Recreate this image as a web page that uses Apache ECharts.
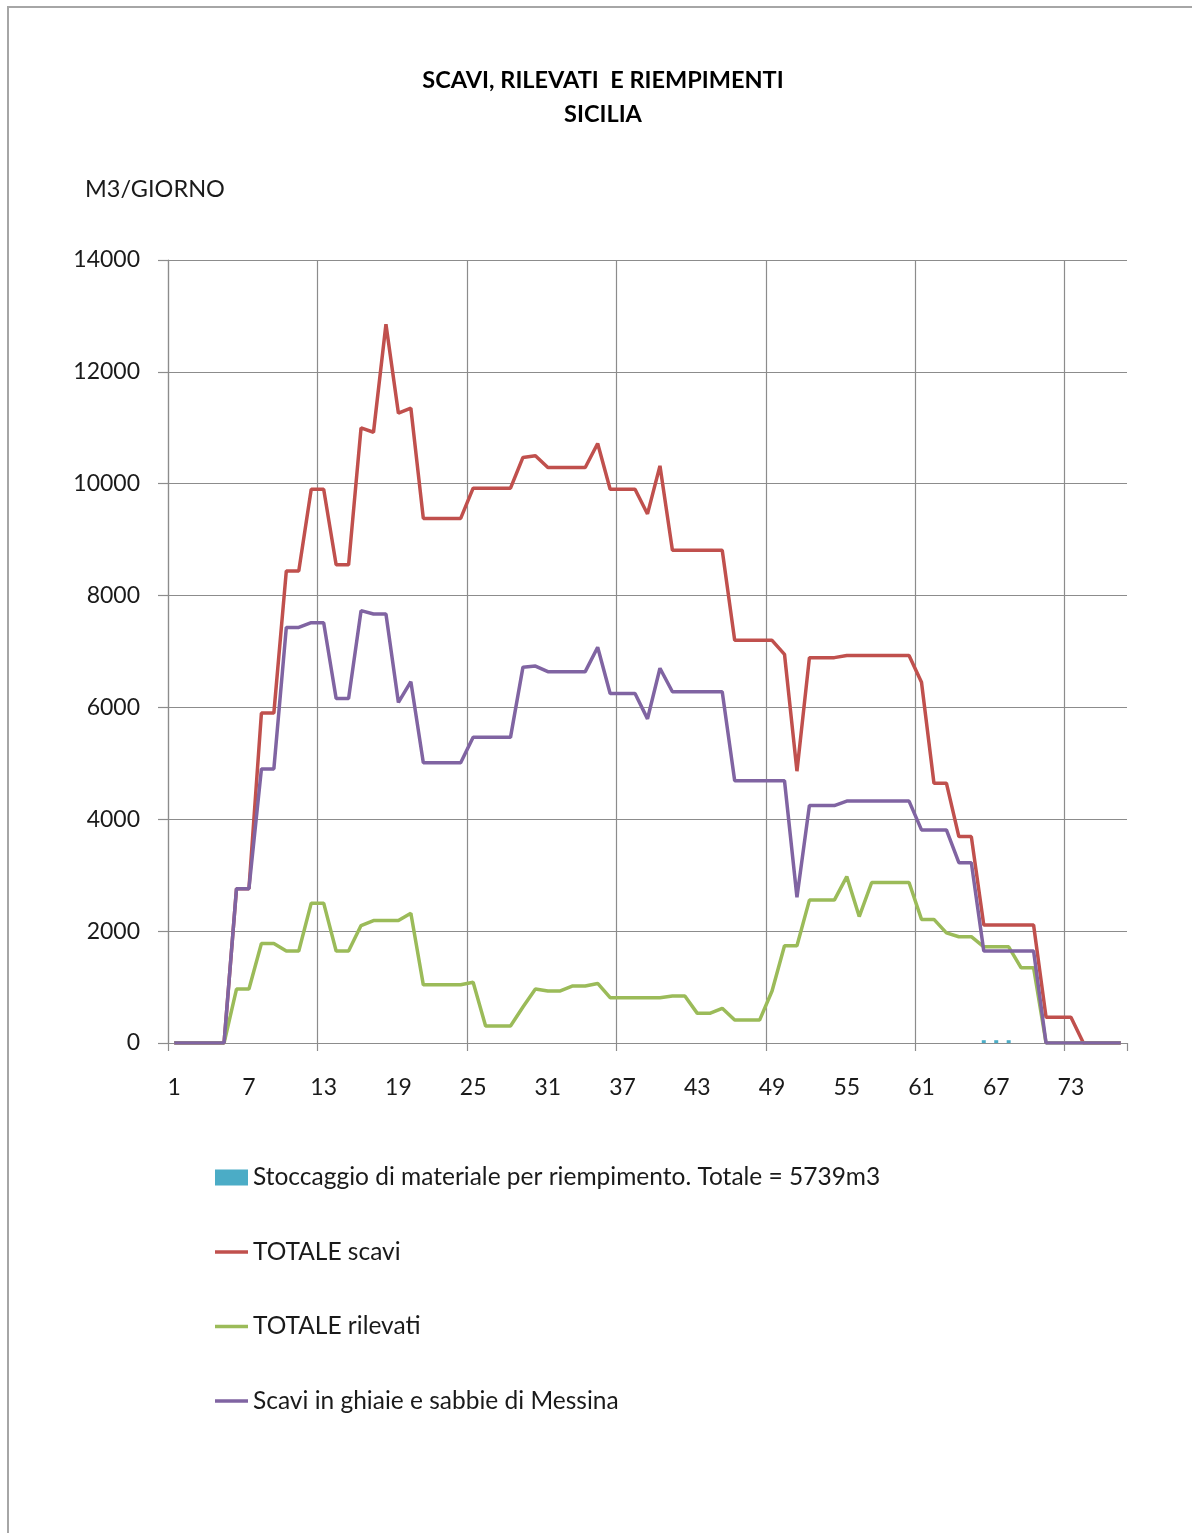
<!DOCTYPE html>
<html>
<head>
<meta charset="utf-8">
<title>Scavi, rilevati e riempimenti - Sicilia</title>
<script src="https://cdn.jsdelivr.net/npm/echarts@6/dist/echarts.min.js"></script>
<style>
  html, body { margin: 0; padding: 0; background: #ffffff; }
  #chart { width: 1192px; height: 1533px; }
</style>
</head>
<body>
<div id="chart"></div>
<script>
// Giorni di lavoro (1..77)
const days = Array.from({ length: 77 }, (_, i) => String(i + 1));

// Valori in m3/giorno
const totaleScavi = [
  0, 0, 0, 0, 0, 2760, 2760, 5900, 5900, 8440,
  8440, 9900, 9900, 8550, 8550, 11000, 10920, 12850, 11260, 11350,
  9380, 9380, 9380, 9380, 9920, 9920, 9920, 9920, 10470, 10500,
  10290, 10290, 10290, 10290, 10720, 9900, 9900, 9900, 9460, 10320,
  8810, 8810, 8810, 8810, 8810, 7200, 7200, 7200, 7200, 6950,
  4860, 6890, 6890, 6890, 6930, 6930, 6930, 6930, 6930, 6930,
  6450, 4645, 4645, 3690, 3690, 2110, 2110, 2110, 2110, 2110,
  460, 460, 460, 0, 0, 0, 0
];

const totaleRilevati = [
  0, 0, 0, 0, 0, 965, 965, 1780, 1780, 1645,
  1645, 2500, 2500, 1645, 1645, 2100, 2190, 2190, 2190, 2320,
  1040, 1040, 1040, 1040, 1085, 305, 305, 305, 645, 965,
  930, 930, 1020, 1020, 1065, 810, 810, 810, 810, 810,
  840, 840, 530, 530, 620, 410, 410, 410, 930, 1740,
  1740, 2555, 2555, 2555, 2975, 2260, 2870, 2870, 2870, 2870,
  2210, 2210, 1970, 1900, 1900, 1720, 1720, 1720, 1345, 1345,
  0, 0, 0, 0, 0, 0, 0
];

const scaviMessina = [
  0, 0, 0, 0, 0, 2760, 2760, 4900, 4900, 7430,
  7430, 7515, 7515, 6160, 6160, 7730, 7670, 7670, 6090, 6460,
  5010, 5010, 5010, 5010, 5465, 5465, 5465, 5465, 6720, 6740,
  6640, 6640, 6640, 6640, 7075, 6250, 6250, 6250, 5795, 6700,
  6280, 6280, 6280, 6280, 6280, 4690, 4690, 4690, 4690, 4690,
  2605, 4245, 4245, 4245, 4325, 4325, 4325, 4325, 4325, 4325,
  3810, 3810, 3810, 3225, 3225, 1645, 1645, 1645, 1645, 1645,
  0, 0, 0, 0, 0, 0, 0
];

// Stoccaggio (solo giorni 66-68)
const stoccaggio = [
  null, null, null, null, null, null, null, null, null, null,
  null, null, null, null, null, null, null, null, null, null,
  null, null, null, null, null, null, null, null, null, null,
  null, null, null, null, null, null, null, null, null, null,
  null, null, null, null, null, null, null, null, null, null,
  null, null, null, null, null, null, null, null, null, null,
  null, null, null, null, null, 50, 50, 50, null, null,
  null, null, null, null, null, null, null
];

const seriesNames = [
  'Stoccaggio di materiale per riempimento. Totale = 5739m3',
  'TOTALE scavi',
  'TOTALE rilevati',
  'Scavi in ghiaie e sabbie di Messina'
];

const titleLines = ['SCAVI, RILEVATI  E RIEMPIMENTI', 'SICILIA'];
const unitLabel = 'M3/GIORNO';

const FONT = 'Lato, "Open Sans", sans-serif';
const GRID_COLOR = '#8c8c8c';
const LINE_ICON = 'path://M0,0H33V3.4H0Z';

const chart = echarts.init(document.getElementById('chart'), null, { renderer: 'canvas' });

chart.setOption({
  backgroundColor: '#ffffff',
  animation: false,
  graphic: [
    {
      type: 'polyline',
      shape: { points: [[8, 1533], [8, 7], [1192, 7]] },
      style: { stroke: '#a6a6a6', lineWidth: 2, fill: null },
      silent: true
    },
    {
      type: 'text',
      x: 603,
      y: 80,
      style: {
        text: titleLines[0],
        align: 'center',
        verticalAlign: 'middle',
        fontFamily: FONT,
        fontSize: 23.5,
        fontWeight: 'bold',
        fill: '#000000'
      }
    },
    {
      type: 'text',
      x: 603,
      y: 114,
      style: {
        text: titleLines[1],
        align: 'center',
        verticalAlign: 'middle',
        fontFamily: FONT,
        fontSize: 23.5,
        fontWeight: 'bold',
        fill: '#000000'
      }
    },
    {
      type: 'text',
      x: 85,
      y: 189,
      style: {
        text: unitLabel,
        align: 'left',
        verticalAlign: 'middle',
        fontFamily: FONT,
        fontSize: 23.5,
        fill: '#1a1a1a'
      }
    }
  ],
  legend: {
    orient: 'vertical',
    left: 215,
    top: 1165,
    padding: 0,
    itemWidth: 33,
    itemHeight: 16,
    itemGap: 49.5,
    textStyle: {
      fontFamily: FONT,
      fontSize: 24.5,
      lineHeight: 24,
      color: '#1a1a1a'
    },
    data: [
      { name: seriesNames[0], icon: 'rect' },
      { name: seriesNames[1], icon: LINE_ICON },
      { name: seriesNames[2], icon: LINE_ICON },
      { name: seriesNames[3], icon: LINE_ICON }
    ]
  },
  grid: {
    left: 168,
    right: 65,
    top: 260,
    bottom: 490,
    containLabel: false
  },
  xAxis: {
    type: 'category',
    data: days,
    boundaryGap: true,
    axisLine: { show: true, lineStyle: { color: GRID_COLOR, width: 1.2 } },
    axisTick: { show: true, interval: 11, length: 8, lineStyle: { color: GRID_COLOR, width: 1.2 } },
    axisLabel: {
      interval: 5,
      margin: 33,
      fontFamily: FONT,
      fontSize: 23,
      color: '#1a1a1a'
    },
    splitLine: {
      show: true,
      interval: 11,
      showMaxLine: false,
      lineStyle: { color: GRID_COLOR, width: 1.2 }
    }
  },
  yAxis: {
    type: 'value',
    min: 0,
    max: 14000,
    interval: 2000,
    axisLine: { show: true, lineStyle: { color: GRID_COLOR, width: 1.2 } },
    axisTick: { show: true, length: 10, lineStyle: { color: GRID_COLOR, width: 1.2 } },
    axisLabel: {
      margin: 28,
      fontFamily: FONT,
      fontSize: 23,
      color: '#1a1a1a',
      formatter: (v) => String(v)
    },
    splitLine: { show: true, lineStyle: { color: GRID_COLOR, width: 1.2 } }
  },
  series: [
    {
      name: seriesNames[0],
      type: 'bar',
      data: stoccaggio,
      barWidth: 4,
      itemStyle: { color: '#4bacc6' }
    },
    {
      name: seriesNames[1],
      type: 'line',
      data: totaleScavi,
      symbol: 'none',
      lineStyle: { color: '#c0504d', width: 3.5 },
      itemStyle: { color: '#c0504d' }
    },
    {
      name: seriesNames[2],
      type: 'line',
      data: totaleRilevati,
      symbol: 'none',
      lineStyle: { color: '#9bbb59', width: 3.5 },
      itemStyle: { color: '#9bbb59' }
    },
    {
      name: seriesNames[3],
      type: 'line',
      data: scaviMessina,
      symbol: 'none',
      lineStyle: { color: '#8064a2', width: 3.5 },
      itemStyle: { color: '#8064a2' }
    }
  ]
});
</script>
</body>
</html>
